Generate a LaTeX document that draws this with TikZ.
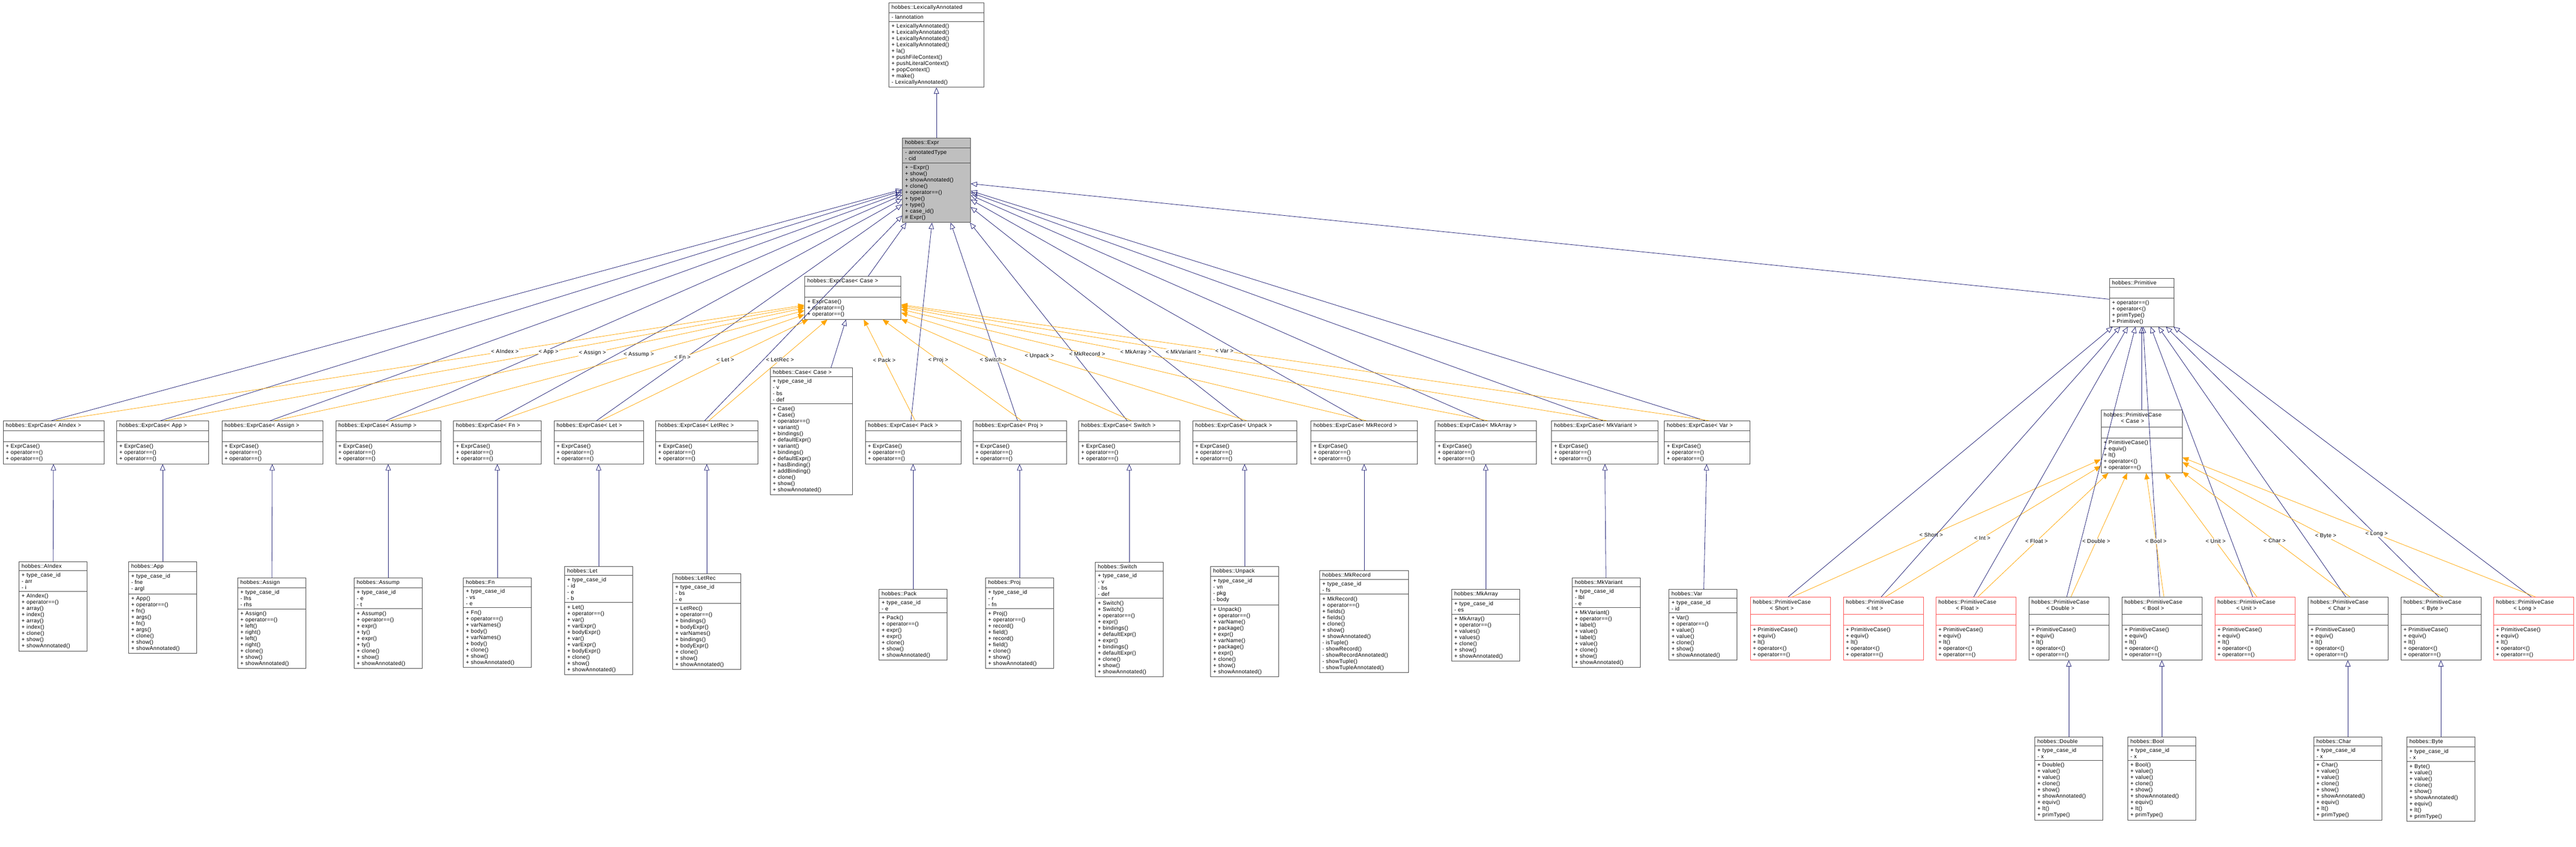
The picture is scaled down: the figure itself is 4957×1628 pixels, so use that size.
\documentclass[tikz,border=0pt]{standalone}
\usepackage{fontspec}
\setmainfont{Liberation Sans}[LetterSpace=3]
\usetikzlibrary{shapes.multipart,arrows.meta}

\definecolor{inhcol}{RGB}{25,25,112}
\definecolor{tplcol}{RGB}{255,165,0}
\definecolor{boxcol}{RGB}{70,70,70}
\definecolor{redcol}{RGB}{255,80,80}

\tikzset{
  umlbox/.style={rectangle split, rectangle split parts=3, draw=boxcol, line width=1pt,
    rectangle split part align={center,left,left}, inner xsep=5pt, inner ysep=4pt,
    font=\fontsize{10.5}{12}\selectfont, anchor=north, fill=white},
  redbox/.style={draw=redcol},
  inh/.style={draw=inhcol, line width=0.8pt, -{Triangle[open,length=12pt,width=10pt]}},
  tpl/.style={draw=tplcol, line width=0.8pt, -{Triangle[length=12pt,width=10pt]}},
  tlab/.style={font=\fontsize{10.5}{12}\selectfont, inner sep=1pt, fill=white}
}

% \umlclass[extra]{name}{center x}{top y}{text width}{title}{attributes}{methods}
\newcommand{\umlclass}[8][]{%
  \node[umlbox, text width=#5pt, #1] (#2) at (#3,#4) {#6\nodepart{second}#7\nodepart{third}#8};%
}
\newcommand{\twoline}[2]{\begin{tabular}{@{}c@{}}#1\\#2\end{tabular}}

\begin{document}
\begin{tikzpicture}[x=1pt,y=-1pt]
  \useasboundingbox (0,0) rectangle (4957,1628);

  % top of the hierarchy
  \umlclass{LexAnn}{1802}{5}{173}{hobbes::LexicallyAnnotated}{- lannotation}{+ LexicallyAnnotated()\\+ LexicallyAnnotated()\\+ LexicallyAnnotated()\\+ LexicallyAnnotated()\\+ la()\\+ pushFileContext()\\+ pushLiteralContext()\\+ popContext()\\+ make()\\- LexicallyAnnotated()}
  \umlclass[fill=gray!50]{Expr}{1802}{265}{121}{hobbes::Expr}{- annotatedType\\- cid}{+ \textasciitilde Expr()\\+ show()\\+ showAnnotated()\\+ clone()\\+ operator==()\\+ type()\\+ type()\\+ case\_id()\\\# Expr()}
  \umlclass{ecCase}{1641}{531}{175}{hobbes::ExprCase< Case >}{\strut}{+ ExprCase()\\+ operator==()\\+ operator==()}
  \umlclass{CaseCase}{1561}{707}{148}{hobbes::Case< Case >}{+ type\_case\_id\\- v\\- bs\\- def}{+ Case()\\+ Case()\\+ operator==()\\+ variant()\\+ bindings()\\+ defaultExpr()\\+ variant()\\+ bindings()\\+ defaultExpr()\\+ hasBinding()\\+ addBinding()\\+ clone()\\+ show()\\+ showAnnotated()}
  \umlclass{Prim}{4121}{535}{114}{hobbes::Primitive}{\strut}{+ operator==()\\+ operator<()\\+ primType()\\+ Primitive()}
  \umlclass{pcCase}{4121}{788}{146}{\twoline{hobbes::PrimitiveCase}{< Case >}}{\strut}{+ PrimitiveCase()\\+ equiv()\\+ lt()\\+ operator<()\\+ operator==()}

  % expression case instances
  \foreach \n/\cx/\w in {AIndex/103/184, App/313/167, Assign/524/184, Assump/747/192, Fn/957/159,
      Let/1152/162, LetRec/1360/187, Pack/1757/174, Proj/1962/170, Switch/2173/185, Unpack/2395/190,
      MkRecord/2625/195, MkArray/2859/185, MkVariant/3088/195, Var/3285/155}
    \umlclass{ec\n}{\cx}{809}{\w}{hobbes::ExprCase< \n\ >}{\strut}{+ ExprCase()\\+ operator==()\\+ operator==()};

  % expression classes
  \umlclass{AIndex}{102}{1080}{121}{hobbes::AIndex}{+ type\_case\_id\\- arr\\- i}{+ AIndex()\\+ operator==()\\+ array()\\+ index()\\+ array()\\+ index()\\+ clone()\\+ show()\\+ showAnnotated()}
  \umlclass{App}{313}{1080}{121}{hobbes::App}{+ type\_case\_id\\- fne\\- argl}{+ App()\\+ operator==()\\+ fn()\\+ args()\\+ fn()\\+ args()\\+ clone()\\+ show()\\+ showAnnotated()}
  \umlclass{Assign}{523}{1111}{121}{hobbes::Assign}{+ type\_case\_id\\- lhs\\- rhs}{+ Assign()\\+ operator==()\\+ left()\\+ right()\\+ left()\\+ right()\\+ clone()\\+ show()\\+ showAnnotated()}
  \umlclass{Assump}{747}{1111}{121}{hobbes::Assump}{+ type\_case\_id\\- e\\- t}{+ Assump()\\+ operator==()\\+ expr()\\+ ty()\\+ expr()\\+ ty()\\+ clone()\\+ show()\\+ showAnnotated()}
  \umlclass{Fn}{957}{1111}{121}{hobbes::Fn}{+ type\_case\_id\\- vs\\- e}{+ Fn()\\+ operator==()\\+ varNames()\\+ body()\\+ varNames()\\+ body()\\+ clone()\\+ show()\\+ showAnnotated()}
  \umlclass{Let}{1152}{1089}{121}{hobbes::Let}{+ type\_case\_id\\- id\\- e\\- b}{+ Let()\\+ operator==()\\+ var()\\+ varExpr()\\+ bodyExpr()\\+ var()\\+ varExpr()\\+ bodyExpr()\\+ clone()\\+ show()\\+ showAnnotated()}
  \umlclass{LetRec}{1360}{1103}{121}{hobbes::LetRec}{+ type\_case\_id\\- bs\\- e}{+ LetRec()\\+ operator==()\\+ bindings()\\+ bodyExpr()\\+ varNames()\\+ bindings()\\+ bodyExpr()\\+ clone()\\+ show()\\+ showAnnotated()}
  \umlclass{Pack}{1757}{1133}{121}{hobbes::Pack}{+ type\_case\_id\\- e}{+ Pack()\\+ operator==()\\+ expr()\\+ expr()\\+ clone()\\+ show()\\+ showAnnotated()}
  \umlclass{Proj}{1962}{1111}{121}{hobbes::Proj}{+ type\_case\_id\\- r\\- fn}{+ Proj()\\+ operator==()\\+ record()\\+ field()\\+ record()\\+ field()\\+ clone()\\+ show()\\+ showAnnotated()}
  \umlclass{Switch}{2173}{1081}{121}{hobbes::Switch}{+ type\_case\_id\\- v\\- bs\\- def}{+ Switch()\\+ Switch()\\+ operator==()\\+ expr()\\+ bindings()\\+ defaultExpr()\\+ expr()\\+ bindings()\\+ defaultExpr()\\+ clone()\\+ show()\\+ showAnnotated()}
  \umlclass{Unpack}{2395}{1089}{121}{hobbes::Unpack}{+ type\_case\_id\\- vn\\- pkg\\- body}{+ Unpack()\\+ operator==()\\+ varName()\\+ package()\\+ expr()\\+ varName()\\+ package()\\+ expr()\\+ clone()\\+ show()\\+ showAnnotated()}
  \umlclass{MkRecord}{2625}{1097}{161}{hobbes::MkRecord}{+ type\_case\_id\\- fs}{+ MkRecord()\\+ operator==()\\+ fields()\\+ fields()\\+ clone()\\+ show()\\+ showAnnotated()\\- isTuple()\\- showRecord()\\- showRecordAnnotated()\\- showTuple()\\- showTupleAnnotated()}
  \umlclass{MkArray}{2859}{1133}{121}{hobbes::MkArray}{+ type\_case\_id\\- es}{+ MkArray()\\+ operator==()\\+ values()\\+ values()\\+ clone()\\+ show()\\+ showAnnotated()}
  \umlclass{MkVariant}{3091}{1111}{121}{hobbes::MkVariant}{+ type\_case\_id\\- lbl\\- e}{+ MkVariant()\\+ operator==()\\+ label()\\+ value()\\+ label()\\+ value()\\+ clone()\\+ show()\\+ showAnnotated()}
  \umlclass{Var}{3277}{1133}{121}{hobbes::Var}{+ type\_case\_id\\- id}{+ Var()\\+ operator==()\\+ value()\\+ value()\\+ clone()\\+ show()\\+ showAnnotated()}

  % primitive case instances
  \foreach \n/\cx/\r in {Short/3445/redbox, Int/3624/redbox, Float/3802/redbox, Double/3981/,
      Bool/4160/, Unit/4339/redbox, Char/4518/, Byte/4697/, Long/4875/redbox}
    \umlclass[\r]{pc\n}{\cx}{1148}{144}{\twoline{hobbes::PrimitiveCase}{< \n\ >}}{\strut}{+ PrimitiveCase()\\+ equiv()\\+ lt()\\+ operator<()\\+ operator==()};

  % primitive classes
  \foreach \n/\cx in {Double/3981, Bool/4160, Char/4518, Byte/4697}
    \umlclass{\n}{\cx}{1417}{121}{hobbes::\n}{+ type\_case\_id\\- x}{+ \n()\\+ value()\\+ value()\\+ clone()\\+ show()\\+ showAnnotated()\\+ equiv()\\+ lt()\\+ primType()};

  % inheritance
  \draw[inh] (Expr) -- (LexAnn);
  \draw[inh] (ecCase) -- (Expr);
  \draw[inh] (CaseCase) -- (ecCase);
  \draw[inh] (Prim) -- (Expr);
  \draw[inh] (pcCase) -- (Prim);
  \foreach \n in {AIndex,App,Assign,Assump,Fn,Let,LetRec,Pack,Proj,Switch,Unpack,MkRecord,MkArray,MkVariant,Var}{
    \draw[inh] ([xshift=-4pt]ec\n.north) -- (Expr);
    \draw[inh] (\n) -- (ec\n);
  }
  \foreach \n in {AIndex,App,Assign,Assump,Fn,Let,LetRec,Pack,Proj,Switch,Unpack,MkRecord,MkArray,MkVariant,Var}
    \draw[tpl] ([xshift=4pt]ec\n.north) -- (ecCase) node[tlab, pos=0.6] {< \n\ >};
  \foreach \n in {Short,Int,Float,Double,Bool,Unit,Char,Byte,Long}{
    \draw[inh] ([xshift=-4pt]pc\n.north) -- (Prim);
    \draw[tpl] ([xshift=4pt]pc\n.north) -- (pcCase) node[tlab, pos=0.45] {< \n\ >};
  }
  \foreach \n in {Double,Bool,Char,Byte}
    \draw[inh] (\n) -- (pc\n);
\end{tikzpicture}
\end{document}
